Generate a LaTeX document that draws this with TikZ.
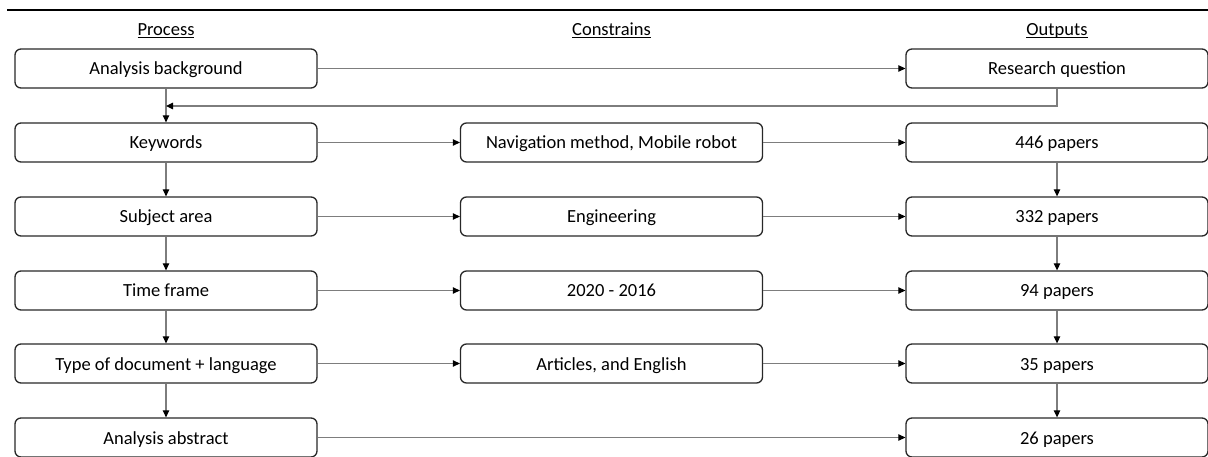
\documentclass[tikz,border=0pt]{standalone}
\usepackage{fontspec}
\setmainfont{Carlito}
\usetikzlibrary{arrows.meta}
\definecolor{conn}{RGB}{125,125,125}
\definecolor{boxline}{RGB}{40,40,40}
\begin{document}
\begin{tikzpicture}[x=1pt,y=-1pt,
  stepbox/.style={draw=boxline, line width=1.3pt, rounded corners=6pt,
    minimum width=302pt, minimum height=39pt, inner sep=0pt,
    text height=17pt, text depth=4pt,
    font=\fontsize{18.5}{22}\selectfont},
  header/.style={font=\fontsize{18.5}{22}\selectfont, inner sep=0pt, anchor=base},
  conn/.style={draw=conn, line width=1.2pt,
    -{Triangle[length=7pt,width=6.5pt,color=black]}},
  plain/.style={draw=conn, line width=1.2pt}]
\useasboundingbox (0,0) rectangle (1208,457);
\draw[line width=2.5pt, black] (7,10) -- (1208,10);
% headers
\node[header] (hp) at (166,36) {\underline{\smash{Process}}};
\node[header] (hc) at (611.5,36) {\underline{\smash{Constrains}}};
\node[header] (ho) at (1057,36) {\underline{\smash{Outputs}}};
% left column
\node[stepbox] (p1) at (166,68.5) {Analysis background};
\node[stepbox] (p2) at (166,142.5) {Keywords};
\node[stepbox] (p3) at (166,216.5) {Subject area};
\node[stepbox] (p4) at (166,290.5) {Time frame};
\node[stepbox] (p5) at (166,363.5) {Type of document + language};
\node[stepbox] (p6) at (166,437.5) {Analysis abstract};
% middle column
\node[stepbox] (c2) at (611.5,142.5) {Navigation method, Mobile robot};
\node[stepbox] (c3) at (611.5,216.5) {Engineering};
\node[stepbox] (c4) at (611.5,290.5) {2020 - 2016};
\node[stepbox] (c5) at (611.5,363.5) {Articles, and English};
% right column
\node[stepbox] (o1) at (1057,68.5) {Research question};
\node[stepbox] (o2) at (1057,142.5) {446 papers};
\node[stepbox] (o3) at (1057,216.5) {332 papers};
\node[stepbox] (o4) at (1057,290.5) {94 papers};
\node[stepbox] (o5) at (1057,363.5) {35 papers};
\node[stepbox] (o6) at (1057,437.5) {26 papers};
% horizontal connectors
\draw[conn] (p1) -- (o1);
\draw[conn] (p2) -- (c2);
\draw[conn] (c2) -- (o2);
\draw[conn] (p3) -- (c3);
\draw[conn] (c3) -- (o3);
\draw[conn] (p4) -- (c4);
\draw[conn] (c4) -- (o4);
\draw[conn] (p5) -- (c5);
\draw[conn] (c5) -- (o5);
\draw[conn] (p6) -- (o6);
% vertical connectors
\draw[conn] (p1) -- (p2);
\draw[conn] (p2) -- (p3);
\draw[conn] (p3) -- (p4);
\draw[conn] (p4) -- (p5);
\draw[conn] (p5) -- (p6);
\draw[conn] (o2) -- (o3);
\draw[conn] (o3) -- (o4);
\draw[conn] (o4) -- (o5);
\draw[conn] (o5) -- (o6);
% feedback loop
\coordinate (lp) at (166,106);
\draw[conn] (o1.south) |- (lp);
\end{tikzpicture}
\end{document}
